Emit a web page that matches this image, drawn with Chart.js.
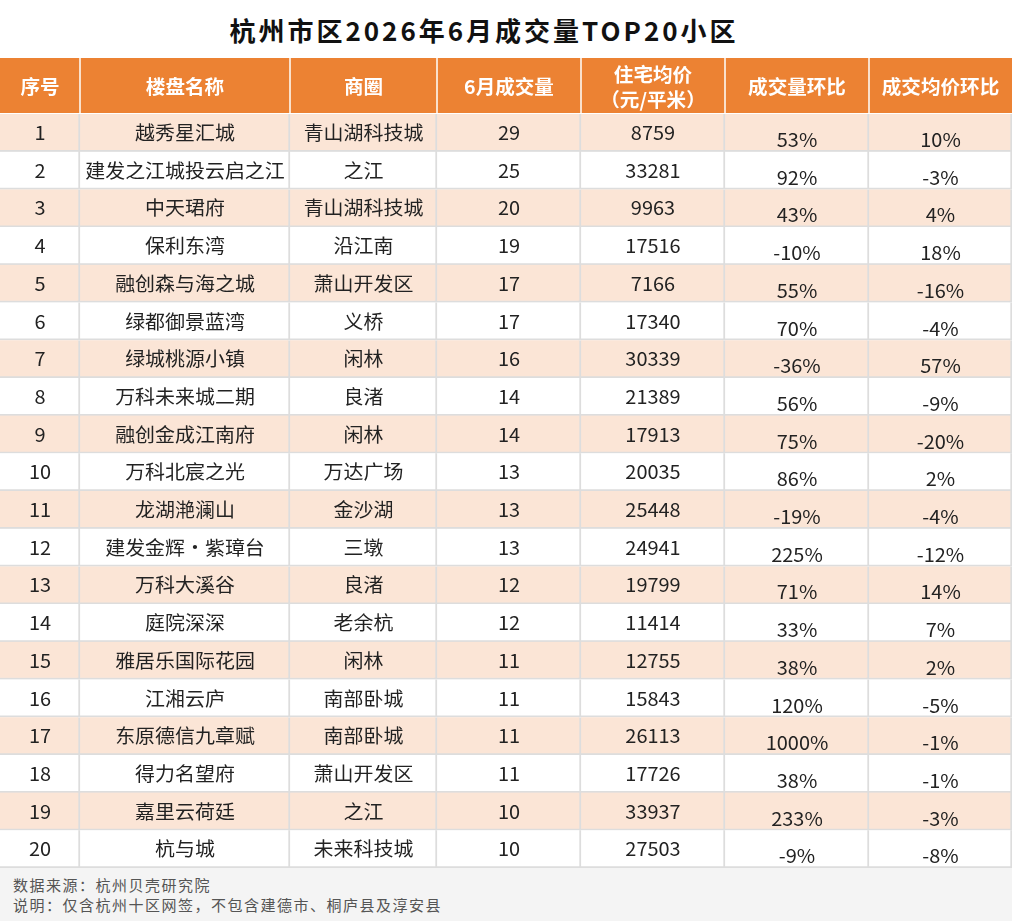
<!DOCTYPE html>
<html lang="zh-CN">
<head>
<meta charset="UTF-8">
<title>杭州市区2026年6月成交量TOP20小区</title>
<script src="https://cdn.jsdelivr.net/npm/chart.js@4.4.1/dist/chart.umd.min.js"></script>
<style>
  html, body { margin: 0; padding: 0; background: #fff; }
  body { width: 1012px; height: 921px; overflow: hidden; font-family: "Noto Sans CJK SC", "Noto Sans", sans-serif; }
  .title { height: 58px; line-height: 60px; text-align: center; font-size: 26px; font-weight: bold; color: #111; letter-spacing: 3px; padding-right: 44px; }
  .wrap { width: 1012px; height: 810px; }
  .foot { height: 53px; background: #f4f4f4; color: #555; font-size: 15px; letter-spacing: 1.5px; line-height: 20px; padding: 7px 0 0 13px; box-sizing: border-box; }
</style>
</head>
<body>
<div class="title">杭州市区2026年6月成交量TOP20小区</div>
<div class="wrap"><canvas id="tbl" width="1012" height="810"></canvas></div>
<div class="foot">数据来源：杭州贝壳研究院<br>说明：仅含杭州十区网签，不包含建德市、桐庐县及淳安县</div>
<script>
// data
var ranks = ['1','2','3','4','5','6','7','8','9','10','11','12','13','14','15','16','17','18','19','20'];
var names = ['越秀星汇城','建发之江城投云启之江','中天珺府','保利东湾','融创森与海之城','绿都御景蓝湾','绿城桃源小镇','万科未来城二期','融创金成江南府','万科北宸之光','龙湖滟澜山','建发金辉·紫璋台','万科大溪谷','庭院深深','雅居乐国际花园','江湘云庐','东原德信九章赋','得力名望府','嘉里云荷廷','杭与城'];
var districts = ['青山湖科技城','之江','青山湖科技城','沿江南','萧山开发区','义桥','闲林','良渚','闲林','万达广场','金沙湖','三墩','良渚','老余杭','闲林','南部卧城','南部卧城','萧山开发区','之江','未来科技城'];
var volumes = [29,25,20,19,17,17,16,14,14,13,13,13,12,12,11,11,11,11,10,10];
var prices = [8759,33281,9963,17516,7166,17340,30339,21389,17913,20035,25448,24941,19799,11414,12755,15843,26113,17726,33937,27503];
var volMoM = [53,92,43,-10,55,70,-36,56,75,86,-19,225,71,33,38,120,1000,38,233,-9];
var priceMoM = [10,-3,4,18,-16,-4,57,-9,-20,2,-4,-12,14,7,2,-5,-1,-1,-3,-8];
var headers = [['序号'],['楼盘名称'],['商圈'],['6月成交量'],['住宅均价','（元/平米）'],['成交量环比'],['成交均价环比']];

// layout
var colWidths = [80,210,147,144,144,144,143];
var ORANGE = '#ec8233', PEACH = '#fbe5d6', LINE = '#dddddd';
var FONT = '"Noto Sans CJK SC", "Noto Sans", sans-serif';

function cellText(col, j) {
  if (col === 0) return ranks[j];
  if (col === 1) return names[j];
  if (col === 2) return districts[j];
  if (col === 3) return String(volumes[j]);
  if (col === 4) return String(prices[j]);
  if (col === 5) return volMoM[j] + '%';
  return priceMoM[j] + '%';
}

// text slightly wider than the font, like the source image
function stretchText(ctx, txt, x, y, sx) {
  ctx.save();
  ctx.translate(x, y);
  ctx.scale(sx, 1);
  ctx.fillText(txt, 0, 0);
  ctx.restore();
}

var tablePlugin = {
  id: 'tableText',
  afterDatasetsDraw: function (chart) {
    var ctx = chart.ctx, xs = chart.scales.x, top = chart.chartArea.top;
    ctx.save();
    ctx.textAlign = 'center';
    ctx.textBaseline = 'middle';
    // header row
    var cum = 0;
    for (var i = 0; i < colWidths.length; i++) {
      var x0 = xs.getPixelForValue(cum), x1 = xs.getPixelForValue(cum + colWidths[i]);
      cum += colWidths[i];
      ctx.fillStyle = ORANGE;
      ctx.fillRect(x0, 0, x1 - x0, top - 1);
      if (i > 0) {
        ctx.fillStyle = 'rgba(255,255,255,0.75)';
        ctx.fillRect(x0 - 1, 0, 2, top - 1);
      }
      ctx.fillStyle = '#fff';
      ctx.font = 'bold 19px ' + FONT;
      var lines = headers[i], cx = (x0 + x1) / 2;
      if (lines.length === 1) {
        stretchText(ctx, lines[0], cx, top / 2 + 1, 1.03);
      } else {
        stretchText(ctx, lines[0], cx, top / 2 - 11, 1.03);
        stretchText(ctx, lines[1], cx, top / 2 + 14, 1.03);
      }
    }
    // body cells
    ctx.fillStyle = '#222';
    ctx.font = '19px ' + FONT;
    chart.data.datasets.forEach(function (ds, i) {
      chart.getDatasetMeta(i).data.forEach(function (el, j) {
        var cx = (el.x + el.base) / 2;
        var dy = i >= 5 ? 7 : 0;
        stretchText(ctx, cellText(i, j), cx, el.y + dy, 1.05);
      });
    });
    ctx.restore();
  }
};

new Chart(document.getElementById('tbl'), {
  type: 'bar',
  data: {
    labels: ranks,
    datasets: colWidths.map(function (w, i) {
      return {
        label: headers[i].join(''),
        data: ranks.map(function () { return w; }),
        backgroundColor: ranks.map(function (r, j) { return j % 2 === 0 ? PEACH : '#ffffff'; }),
        borderColor: LINE,
        borderWidth: { top: 0, left: 0, right: 2, bottom: 2 },
        borderSkipped: false,
        barPercentage: 1,
        categoryPercentage: 1
      };
    })
  },
  options: {
    indexAxis: 'y',
    responsive: false,
    animation: false,
    layout: { padding: { top: 56, left: 0, right: 0, bottom: 0 } },
    scales: {
      x: { stacked: true, min: 0, max: 1012, display: false },
      y: { stacked: true, display: false }
    },
    plugins: { legend: { display: false }, tooltip: { enabled: false } }
  },
  plugins: [tablePlugin]
});
</script>
</body>
</html>
